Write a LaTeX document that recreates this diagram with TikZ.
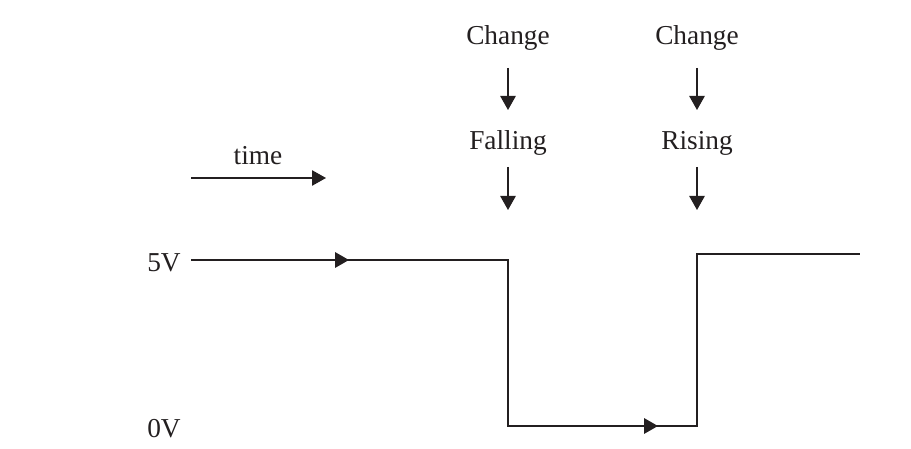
\documentclass[tikz,border=0pt]{standalone}
\usepackage{fontspec}
\setmainfont{Liberation Serif}
\usetikzlibrary{arrows.meta}
\definecolor{ink}{RGB}{35,31,32}

\begin{document}
\begin{tikzpicture}[x=0.75pt,y=-0.75pt,>={Triangle[length=10.5pt,width=11.5pt]},
  lbl/.style={anchor=base,inner sep=0pt,text=ink,font=\fontsize{20.5}{24}\selectfont},
  pointer/.style={->,draw=ink,line width=1.2pt},
  wave/.style={draw=ink,line width=1.8pt,line join=miter}]
\useasboundingbox (0,0) rectangle (911,449);

% labels
\node[lbl](chg1) at (508,45) {Change};
\node[lbl](chg2) at (697,45) {Change};
\node[lbl](fall) at (508,150) {Falling};
\node[lbl](rise) at (697,150) {Rising};
\node[lbl](time) at (258,165) {time};
\node[lbl](hi) at (164,272) {5V};
\node[lbl](lo) at (164,437) {0V};

% pointers
\coordinate (p1) at (508,68);  \coordinate (q1) at (508,110);
\coordinate (p2) at (697,68);  \coordinate (q2) at (697,110);
\coordinate (p3) at (508,167); \coordinate (q3) at (508,210);
\coordinate (p4) at (697,167); \coordinate (q4) at (697,210);
\coordinate (t0) at (191,178); \coordinate (t1) at (326,178);
\draw[pointer] (p1) -- (q1);
\draw[pointer] (p2) -- (q2);
\draw[pointer] (p3) -- (q3);
\draw[pointer] (p4) -- (q4);
\draw[pointer] (t0) -- (t1);

% signal
\coordinate (w0) at (191,260);
\coordinate (w1) at (508,260);
\coordinate (w2) at (508,426);
\coordinate (w3) at (697,426);
\coordinate (w4) at (697,254);
\coordinate (w5) at (860,254);
\coordinate (m1) at (349,260);
\coordinate (m2) at (658,426);
\draw[wave] (w0) -- (w1) -- (w2) -- (w3) -- (w4) -- (w5);
\draw[wave,->] (w0) -- (m1);
\draw[wave,->] (w2) -- (m2);

\end{tikzpicture}
\end{document}
